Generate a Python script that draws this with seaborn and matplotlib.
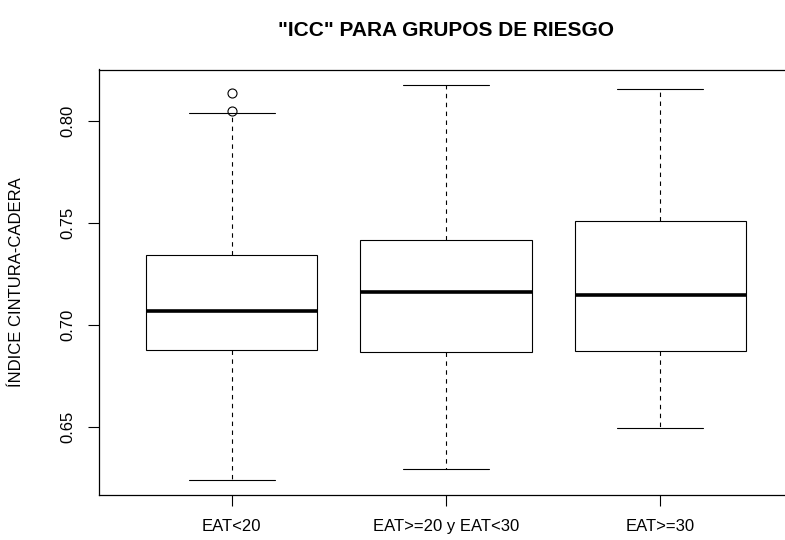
import pandas as pd
import matplotlib
matplotlib.use("Agg")
import matplotlib.pyplot as plt
import seaborn as sns

# Values (box summaries per risk group)
groups = ["EAT<20", "EAT>=20 y EAT<30", "EAT>=30"]
lower_whisker = [0.6238, 0.6292, 0.6494]
q1 = [0.6876, 0.6868, 0.6871]
median = [0.7069, 0.7161, 0.7145]
q3 = [0.7343, 0.7416, 0.7509]
upper_whisker = [0.8038, 0.8177, 0.8157]
outliers = [[0.8051, 0.8136], [], []]

title = '"ICC" PARA GRUPOS DE RIESGO'
ylabel = "ÍNDICE CINTURA-CADERA"
yticks = [0.65, 0.70, 0.75, 0.80]

# seaborn needs raw observations: repeat each quartile so the
# computed box stats land on the values above
rows = []
for i, g in enumerate(groups):
    vals = ([lower_whisker[i]] + [q1[i]] * 10 + [median[i]] * 10
            + [q3[i]] * 10 + [upper_whisker[i]] + outliers[i])
    rows += [{"grupo": g, "icc": v} for v in vals]
df = pd.DataFrame(rows)

sns.set_style("white")
plt.rcParams["font.family"] = ["Liberation Sans", "DejaVu Sans"]
plt.rcParams["text.color"] = "black"
plt.rcParams["axes.labelcolor"] = "black"

fig = plt.figure(figsize=(7.85, 5.4), dpi=100)
W, H = 785, 540
ax = fig.add_axes([99 / W, (H - 495) / H, (793 - 99) / W, (495 - 69.5) / H])

sns.boxplot(data=df, x="grupo", y="icc", order=groups, ax=ax,
            color="white", linecolor="black", linewidth=0.8, width=0.8,
            fliersize=6.5,
            medianprops=dict(linewidth=2.6, color="black"),
            whiskerprops=dict(linestyle=(0, (4, 4)), linewidth=0.8, color="black"),
            capprops=dict(linewidth=0.8, color="black"),
            flierprops=dict(marker="o", markerfacecolor="none",
                            markeredgecolor="black", markeredgewidth=0.8))

ax.set_xlim(-0.62, 2.62)
ax.set_ylim(0.6165, 0.8253)
ax.set_yticks(yticks)
ax.set_yticklabels([f"{t:.2f}" for t in yticks], rotation=90, va="center")
ax.tick_params(axis="both", direction="out", length=8, width=0.8,
               labelsize=12, pad=9, left=True, bottom=True, colors="black")
ax.set_xlabel("")
ax.set_ylabel(ylabel, fontsize=12)
ax.yaxis.set_label_coords(-0.108, 0.5)
for s in ax.spines.values():
    s.set_color("black")
    s.set_linewidth(0.9)

fig.text(446 / W, 1 - 30 / H, title, ha="center", va="center",
         fontsize=15, fontweight="bold", color="black")

fig.savefig("out.png", dpi=100)
